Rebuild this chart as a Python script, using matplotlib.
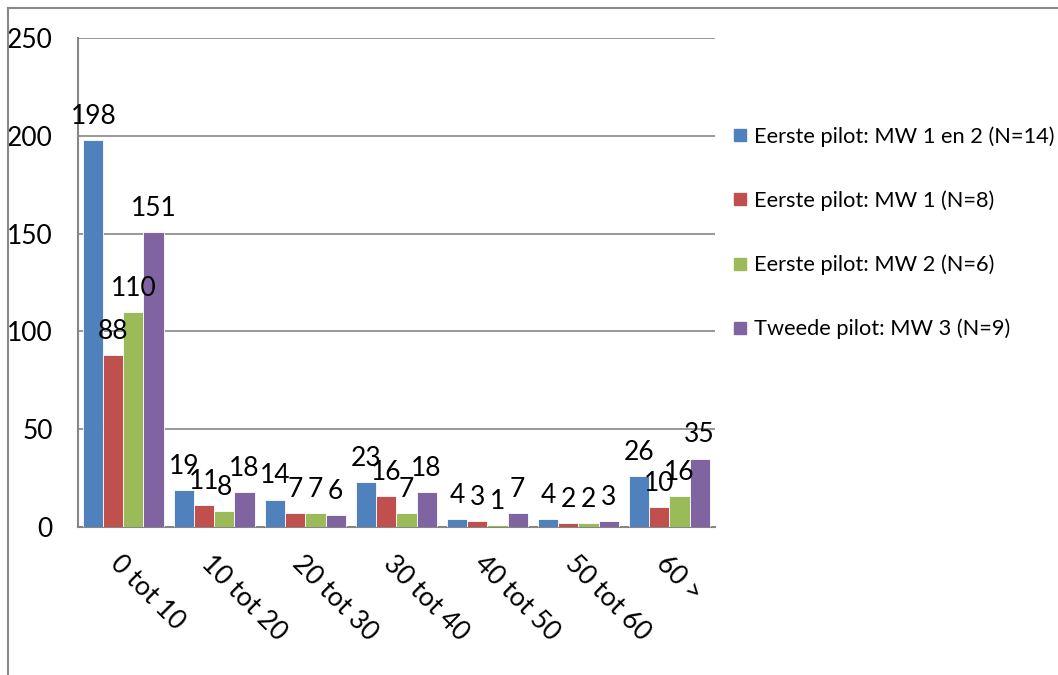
import matplotlib.pyplot as plt
import numpy as np
from matplotlib.lines import Line2D

plt.rcParams['font.family'] = ['Lato', 'DejaVu Sans']

categories = ['0 tot 10', '10 tot 20', '20 tot 30', '30 tot 40', '40 tot 50', '50 tot 60', '60 >']
series_names = ['Eerste pilot: MW 1 en 2 (N=14)', 'Eerste pilot: MW 1 (N=8)',
                'Eerste pilot: MW 2 (N=6)', 'Tweede pilot: MW 3 (N=9)']
mw12 = [198, 19, 14, 23, 4, 4, 26]
mw1 = [88, 11, 7, 16, 3, 2, 10]
mw2 = [110, 8, 7, 7, 1, 2, 16]
mw3 = [151, 18, 6, 18, 7, 3, 35]
colors = ['#4F81BD', '#C0504D', '#9BBB59', '#8064A2']

fig = plt.figure(figsize=(10.58, 6.75), dpi=100)
ax = fig.add_axes([0.0737, 0.2193, 0.6021, 0.7244])

x = np.arange(len(categories))
w = 0.22
for i, (vals, c, name) in enumerate(zip([mw12, mw1, mw2, mw3], colors, series_names)):
    pos = x + (i - 1.5) * w
    ax.bar(pos, vals, w, color=c, label=name, edgecolor='white', linewidth=0.6, zorder=3)
    for p, v in zip(pos, vals):
        ax.annotate(str(v), (p, v), xytext=(0, 8), textcoords='offset points',
                    ha='center', va='bottom', fontsize=19, zorder=4)

ax.set_xlim(-0.5, len(categories) - 0.5)
ax.set_ylim(0, 250)
ax.set_yticks(range(0, 251, 50))
ax.yaxis.grid(True, color='#868686', linewidth=1.2, zorder=0)
for s in ['top', 'right']:
    ax.spines[s].set_visible(False)
for s in ['left', 'bottom']:
    ax.spines[s].set_color('#868686')
    ax.spines[s].set_linewidth(1.5)
ax.tick_params(axis='y', length=0, pad=18, labelsize=19)
ax.tick_params(axis='x', length=0, pad=17, labelsize=19)
ax.set_xticks(x)
ax.set_xticklabels(categories, rotation=-45, ha='left', va='top', rotation_mode='anchor')

handles = [Line2D([0], [0], marker='s', linestyle='', markersize=9, color=c) for c in colors]
fig.legend(handles, series_names, loc='upper left', bbox_to_anchor=(0.671, 0.842),
           frameon=False, fontsize=15.7, labelspacing=2.0, handletextpad=0.1,
           handlelength=1.0)

# outer chart border
fig.add_artist(Line2D([8 / 1058, 8 / 1058], [0, 1 - 8 / 675], transform=fig.transFigure,
                      color='#888888', linewidth=1.5))
fig.add_artist(Line2D([8 / 1058, 1], [1 - 8 / 675, 1 - 8 / 675], transform=fig.transFigure,
                      color='#888888', linewidth=1.5))

fig.savefig('out.png', dpi=100)
